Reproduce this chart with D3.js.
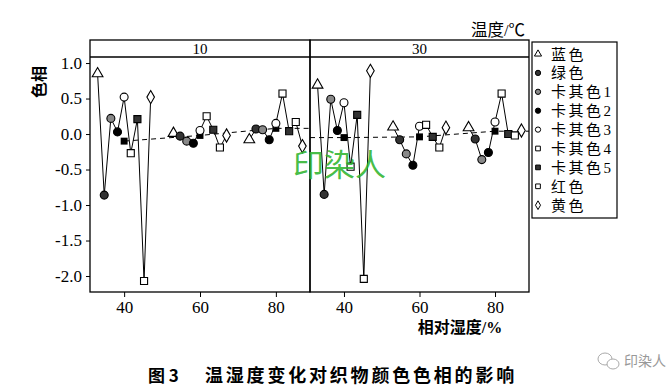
<!DOCTYPE html>
<html><head><meta charset="utf-8">
<script src="https://cdn.jsdelivr.net/npm/d3@7"></script>
<style>
body{margin:0;background:#fff;}
svg{display:block;}
</style></head>
<body>
<svg id="chart" width="668" height="391"></svg>
<script>
// ---- data ----
const colors = ["蓝色","绿色","卡其色1","卡其色2","卡其色3","卡其色4","卡其色5","红色","黄色"];
const temperatures = ["10","30"];
const humidity = [40, 60, 80];
// horizontal dodge (humidity units) of each colour inside a humidity group
const dodge = [-7, -5.25, -3.5, -1.75, 0, 1.75, 3.5, 5.25, 7];
// hue change per colour (order of `colors`)
const hue_T10_H40 = [0.85, -0.86, 0.22, 0.03, 0.52, -0.27, 0.21, -2.07, 0.52];
const hue_T10_H60 = [0.01, -0.03, -0.10, -0.13, 0.05, 0.25, 0.06, -0.19, -0.02];
const hue_T10_H80 = [-0.08, 0.07, 0.06, -0.08, 0.15, 0.57, 0.04, 0.17, -0.17];
const hue_T30_H40 = [0.69, -0.85, 0.49, 0.05, 0.44, -0.46, 0.27, -2.04, 0.89];
const hue_T30_H60 = [0.10, -0.08, -0.28, -0.44, 0.11, 0.13, -0.04, -0.19, 0.09];
const hue_T30_H80 = [0.09, -0.07, -0.36, -0.26, 0.17, 0.57, 0.00, -0.02, 0.05];
// mean per humidity (filled squares, dashed line)
const mean_T10 = [-0.10, -0.02, 0.08];
const mean_T30 = [-0.05, -0.04, 0.04];
const yTicks = [1.0, 0.5, 0.0, -0.5, -1.0, -1.5, -2.0];
const xTicks = [40, 60, 80];
const xDomain = [31, 89];
const yDomain = [-2.225, 1.085];

const hueTable = {
  "10": [hue_T10_H40, hue_T10_H60, hue_T10_H80],
  "30": [hue_T30_H40, hue_T30_H60, hue_T30_H80]
};
const meanTable = {"10": mean_T10, "30": mean_T30};

// ---- styles ----
const markerStyle = [
  {shape: d3.symbolTriangle, fill: "#fff"},
  {shape: d3.symbolCircle, fill: "#333"},
  {shape: d3.symbolCircle, fill: "#888"},
  {shape: d3.symbolCircle, fill: "#000"},
  {shape: d3.symbolCircle, fill: "#fff"},
  {shape: d3.symbolSquare, fill: "#fff"},
  {shape: d3.symbolSquare, fill: "#333"},
  {shape: d3.symbolSquare, fill: "#fff"},
  {shape: d3.symbolDiamond, fill: "#fff"}
];
const serif = "'Liberation Serif','Times New Roman',serif";
const cjk = "'Liberation Serif','Noto Sans CJK SC',sans-serif";

const svg = d3.select("#chart");
const plotTop = 40, stripH = 17, plotBottom = 292;
const panels = [{t: "10", x0: 90, x1: 310}, {t: "30", x0: 310, x1: 529}];
const y = d3.scaleLinear().domain(yDomain).range([plotBottom, plotTop + stripH]);

panels.forEach((p, pi) => {
  const x = d3.scaleLinear().domain(xDomain).range([p.x0, p.x1]);
  const g = svg.append("g");
  const hues = hueTable[p.t];
  const means = meanTable[p.t];

  // dashed mean line
  const dash = [[xDomain[0], means[0]]].concat(humidity.map((h, i) => [h, means[i]])).concat([[xDomain[1], means[2]]]);
  g.append("path").datum(pi === 0 ? dash.slice(1) : dash)
    .attr("d", d3.line().x(d => x(d[0])).y(d => y(d[1])))
    .attr("fill", "none").attr("stroke", "#000").attr("stroke-width", 1)
    .attr("stroke-dasharray", "5,4");

  // solid lines within each humidity group
  humidity.forEach((h, hi) => {
    const pts = colors.map((c, ci) => [h + dodge[ci], hues[hi][ci]]);
    g.append("path").datum(pts)
      .attr("d", d3.line().x(d => x(d[0])).y(d => y(d[1])))
      .attr("fill", "none").attr("stroke", "#000").attr("stroke-width", 1);
  });

  // mean markers
  humidity.forEach((h, hi) => {
    g.append("path").attr("d", d3.symbol(d3.symbolSquare, 48)())
      .attr("transform", `translate(${x(h)},${y(means[hi])})`)
      .attr("fill", "#000");
  });

  // colour markers
  humidity.forEach((h, hi) => {
    colors.forEach((c, ci) => {
      const st = markerStyle[ci];
      g.append("path").attr("d", d3.symbol(st.shape, 50)())
        .attr("transform", `translate(${x(h + dodge[ci])},${y(hues[hi][ci])})`)
        .attr("fill", st.fill).attr("stroke", "#000").attr("stroke-width", 1.1);
    });
  });

  // panel frame and strip
  g.append("rect").attr("x", p.x0).attr("y", plotTop).attr("width", p.x1 - p.x0).attr("height", plotBottom - plotTop)
    .attr("fill", "none").attr("stroke", "#000").attr("stroke-width", 1.3);
  g.append("line").attr("x1", p.x0).attr("x2", p.x1).attr("y1", plotTop + stripH).attr("y2", plotTop + stripH)
    .attr("stroke", "#000").attr("stroke-width", 1.3);
  g.append("text").attr("x", (p.x0 + p.x1) / 2).attr("y", plotTop + 13.5).attr("text-anchor", "middle")
    .attr("font-family", serif).attr("font-size", 15).text(p.t);

  // x axis
  const xa = svg.append("g").attr("transform", `translate(0,${plotBottom})`)
    .call(d3.axisBottom(x).tickValues(xTicks).tickSize(5).tickPadding(4).tickFormat(d3.format("d")));
  xa.select(".domain").remove();
  xa.selectAll("text").attr("font-family", serif).attr("font-size", 17).attr("fill", "#000");
  xa.selectAll("line").attr("stroke", "#000");

  if (pi === 0) {
    const ya = svg.append("g").attr("transform", `translate(${p.x0},0)`)
      .call(d3.axisLeft(y).tickValues(yTicks).tickSize(4).tickPadding(4).tickFormat(v => v.toFixed(1)));
    ya.select(".domain").remove();
    ya.selectAll("text").attr("font-family", serif).attr("font-size", 17).attr("fill", "#000");
    ya.selectAll("line").attr("stroke", "#000");
  }
});

// legend
const lg = svg.append("g");
const lx = 532, ly = 42, lstep = 18.9;
lg.append("rect").attr("x", lx).attr("y", ly).attr("width", 85).attr("height", 176)
  .attr("fill", "#fff").attr("stroke", "#000").attr("stroke-width", 1.2);
colors.forEach((c, ci) => {
  const cy = ly + 12 + ci * lstep;
  const st = markerStyle[ci];
  lg.append("path").attr("d", d3.symbol(st.shape, 22)())
    .attr("transform", `translate(${lx + 6},${cy})`)
    .attr("fill", st.fill).attr("stroke", "#000").attr("stroke-width", 1);
  lg.append("text").attr("x", lx + 19).attr("y", cy + 5.5).attr("font-family", cjk)
    .attr("font-size", 15).attr("letter-spacing", 2.5).text(c);
});

// titles and labels
svg.append("text").attr("x", 471).attr("y", 36).attr("font-family", cjk).attr("font-size", 16.5).text("温度/℃");
svg.append("text").attr("transform", "translate(45,82) rotate(-90)").attr("text-anchor", "middle")
  .attr("font-family", cjk).attr("font-size", 16).attr("font-weight", "bold").text("色相");
svg.append("text").attr("x", 460).attr("y", 333).attr("text-anchor", "middle")
  .attr("font-family", cjk).attr("font-size", 16).attr("font-weight", "bold").text("相对湿度/%");
svg.append("text").attr("x", 148).attr("y", 382).attr("font-family", "'Noto Sans CJK SC',sans-serif")
  .attr("font-size", 17).attr("font-weight", "bold").text("图 3");
svg.append("text").attr("x", 205).attr("y", 382).attr("font-family", "'Noto Sans CJK SC',sans-serif")
  .attr("font-size", 18).attr("font-weight", "bold").attr("letter-spacing", 2.8).text("温湿度变化对织物颜色色相的影响");

// green watermark
svg.append("text").attr("x", 293).attr("y", 176).attr("font-family", "'Noto Sans CJK SC',sans-serif")
  .attr("font-size", 31).attr("fill", "#2fb52f").attr("fill-opacity", 0.9).text("印染人");

// bottom-right watermark
const wm = svg.append("g").attr("fill", "none").attr("stroke", "#aaa").attr("stroke-width", 1);
wm.append("ellipse").attr("cx", 605).attr("cy", 359).attr("rx", 7).attr("ry", 6);
wm.append("ellipse").attr("cx", 613).attr("cy", 364).attr("rx", 6).attr("ry", 5).attr("fill", "#fff");
svg.append("text").attr("x", 624).attr("y", 366).attr("font-family", "'Noto Sans CJK SC',sans-serif")
  .attr("font-size", 14).attr("fill", "#999").text("印染人");
</script>
</body></html>
